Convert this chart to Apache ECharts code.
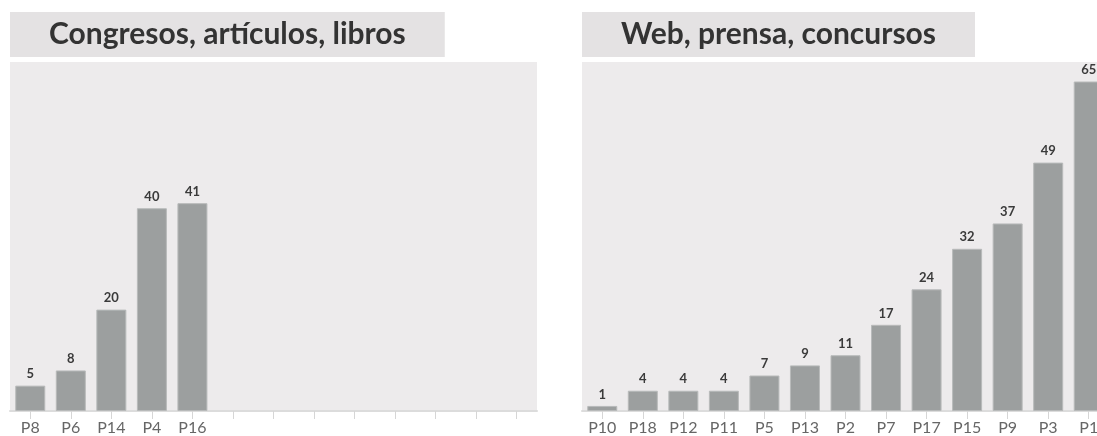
<!DOCTYPE html>
<html>
<head>
<meta charset="utf-8">
<script src="https://cdn.jsdelivr.net/npm/echarts@6/dist/echarts.min.js"></script>
<style>
  html, body { margin: 0; padding: 0; background: #ffffff; overflow: hidden; }
  #chart { width: 1112px; height: 436px; }
</style>
</head>
<body>
<div id="chart"></div>
<script>
// Panel 1: congresos, artículos, libros
const leftTitle = 'Congresos, artículos, libros';
const leftCategories = ['P8', 'P6', 'P14', 'P4', 'P16'];
const leftValues = [5, 8, 20, 40, 41];

// Panel 2: web, prensa, concursos
const rightTitle = 'Web, prensa, concursos';
const rightCategories = ['P10', 'P18', 'P12', 'P11', 'P5', 'P13', 'P2', 'P7', 'P17', 'P15', 'P9', 'P3', 'P1'];
const rightValues = [1, 4, 4, 4, 7, 9, 11, 17, 24, 32, 37, 49, 65];

// Both panels share the same number of slots and the same value scale
const slotCount = 13;
const valueMax = 65;

const FONT = '"Lato", "Open Sans", sans-serif';
const PANEL_BG = '#edebec';
const TITLE_BG = '#e4e2e3';
const BAR_COLOR = '#9c9f9f';

// The drawing surface is a little wider than the window, so the second
// panel runs past the visible right edge
const CHART_W = 1112;
const plotWidth = 527;
const gridTop = 81.5;
const gridBottom = 24.5;

const panels = [
  { title: leftTitle, x: 10, cats: leftCategories, vals: leftValues },
  { title: rightTitle, x: 582, cats: rightCategories, vals: rightValues }
];

const chart = echarts.init(document.getElementById('chart'), null, { renderer: 'canvas' });

const option = {
  animation: false,
  backgroundColor: '#ffffff',
  title: panels.map(p => ({
    text: p.title,
    left: p.x,
    top: 12,
    padding: [5, 39, 6, 39],
    backgroundColor: TITLE_BG,
    textStyle: {
      fontFamily: FONT,
      fontWeight: 'bold',
      fontSize: 30,
      lineHeight: 34,
      color: '#333333'
    }
  })),
  graphic: panels.map(p => ({
    type: 'rect',
    z: -10,
    silent: true,
    shape: { x: p.x, y: 62, width: plotWidth, height: 350 },
    style: { fill: PANEL_BG }
  })),
  grid: panels.map(p => ({
    left: p.x,
    right: CHART_W - (p.x + plotWidth),
    top: gridTop,
    bottom: gridBottom,
    containLabel: false
  })),
  xAxis: panels.map((p, i) => ({
    type: 'category',
    gridIndex: i,
    data: p.cats,
    min: 0,
    max: slotCount - 1,
    axisLine: { lineStyle: { color: '#dcdcdc', width: 2 } },
    axisTick: { show: true, alignWithLabel: true, length: 8, lineStyle: { color: '#d6d6d6', width: 1 } },
    axisLabel: { color: '#666666', fontFamily: FONT, fontSize: 16, margin: 9, interval: 0 },
    splitLine: { show: false }
  })),
  yAxis: panels.map((p, i) => ({
    type: 'value',
    gridIndex: i,
    min: 0,
    max: valueMax,
    show: false,
    splitLine: { show: false }
  })),
  series: panels.map((p, i) => ({
    type: 'bar',
    xAxisIndex: i,
    yAxisIndex: i,
    data: p.vals,
    barWidth: 30,
    itemStyle: { color: BAR_COLOR, borderColor: '#b8baba', borderWidth: 1 },
    label: {
      show: true,
      position: 'top',
      distance: 5,
      color: '#3a3a3a',
      fontFamily: FONT,
      fontWeight: 'bold',
      fontSize: 13
    }
  }))
};

chart.setOption(option);
</script>
</body>
</html>
